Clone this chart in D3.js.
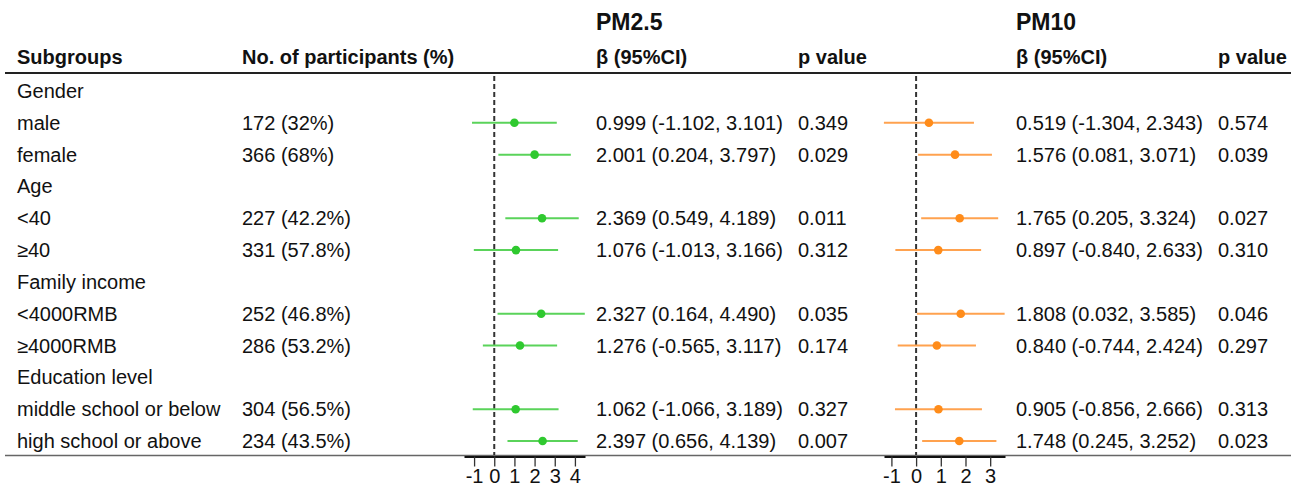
<!DOCTYPE html>
<html>
<head>
<meta charset="utf-8">
<script src="https://cdn.jsdelivr.net/npm/d3@7"></script>
<style>
  body { margin: 0; background: #fff; }
  svg text { font-family: "Liberation Sans", Arial, sans-serif; fill: #111; }
</style>
</head>
<body>
<svg id="chart" width="1291" height="488"></svg>
<script>
// rows of the table
const labels = ["Gender", "male", "female", "Age", "<40", "≥40", "Family income",
    "<4000RMB", "≥4000RMB", "Education level", "middle school or below", "high school or above"];
const participants = ["", "172 (32%)", "366 (68%)", "", "227 (42.2%)", "331 (57.8%)", "",
    "252 (46.8%)", "286 (53.2%)", "", "304 (56.5%)", "234 (43.5%)"];

// PM2.5
const pm25Est = [null, 0.999, 2.001, null, 2.369, 1.076, null, 2.327, 1.276, null, 1.062, 2.397];
const pm25Lo  = [null, -1.102, 0.204, null, 0.549, -1.013, null, 0.164, -0.565, null, -1.066, 0.656];
const pm25Hi  = [null, 3.101, 3.797, null, 4.189, 3.166, null, 4.490, 3.117, null, 3.189, 4.139];
const pm25P   = ["", "0.349", "0.029", "", "0.011", "0.312", "", "0.035", "0.174", "", "0.327", "0.007"];

// PM10
const pm10Est = [null, 0.519, 1.576, null, 1.765, 0.897, null, 1.808, 0.840, null, 0.905, 1.748];
const pm10Lo  = [null, -1.304, 0.081, null, 0.205, -0.840, null, 0.032, -0.744, null, -0.856, 0.245];
const pm10Hi  = [null, 2.343, 3.071, null, 3.324, 2.633, null, 3.585, 2.424, null, 2.666, 3.252];
const pm10P   = ["", "0.574", "0.039", "", "0.027", "0.310", "", "0.046", "0.297", "", "0.313", "0.023"];

const pm25Ticks = [-1, 0, 1, 2, 3, 4];
const pm10Ticks = [-1, 0, 1, 2, 3];

const svg = d3.select("#chart");
const fontSize = 20;

let y = d3.scalePoint()
    .domain(d3.range(labels.length))
    .range([91, 441]);

function fmt(v) { return v.toFixed(3); }

// header
svg.append("text").attr("x", 596).attr("y", 30)
    .attr("font-size", 23).attr("font-weight", "bold").text("PM2.5");
svg.append("text").attr("x", 1016).attr("y", 30)
    .attr("font-size", 23).attr("font-weight", "bold").text("PM10");

const headers = [
    {x: 17, t: "Subgroups"},
    {x: 242, t: "No. of participants (%)"},
    {x: 596, t: "β (95%CI)"},
    {x: 798, t: "p value"},
    {x: 1016, t: "β (95%CI)"},
    {x: 1218, t: "p value"}
];
svg.selectAll("text.hdr")
    .data(headers)
    .enter().append("text")
    .attr("class", "hdr")
    .attr("x", d => d.x)
    .attr("y", 57)
    .attr("dy", "0.35em")
    .attr("font-size", fontSize)
    .attr("font-weight", "bold")
    .text(d => d.t);

svg.append("line").attr("x1", 5).attr("x2", 1291).attr("y1", 73).attr("y2", 73)
    .attr("stroke", "#222").attr("stroke-width", 2);
svg.append("line").attr("x1", 5).attr("x2", 1291).attr("y1", 455.5).attr("y2", 455.5)
    .attr("stroke", "#666").attr("stroke-width", 1.5);

// text columns
function textCol(xPos, values) {
    svg.append("g").selectAll("text")
        .data(values)
        .enter().append("text")
        .attr("x", xPos)
        .attr("y", (d, i) => y(i))
        .attr("dy", "0.35em")
        .attr("font-size", fontSize)
        .text(d => d);
}
textCol(17, labels);
textCol(242, participants);
textCol(596, pm25Est.map((e, i) => e == null ? "" : fmt(e) + " (" + fmt(pm25Lo[i]) + ", " + fmt(pm25Hi[i]) + ")"));
textCol(798, pm25P);
textCol(1016, pm10Est.map((e, i) => e == null ? "" : fmt(e) + " (" + fmt(pm10Lo[i]) + ", " + fmt(pm10Hi[i]) + ")"));
textCol(1218, pm10P);

// forest panels
function forest(range, domain, ticks, est, lo, hi, lineColor, pointColor) {
    let x = d3.scaleLinear().domain(domain).range(range);
    let g = svg.append("g");

    g.append("line")
        .attr("x1", x(0)).attr("x2", x(0))
        .attr("y1", 76).attr("y2", 455)
        .attr("stroke", "#333").attr("stroke-width", 2)
        .attr("stroke-dasharray", "5,3");

    let rows = d3.range(est.length).filter(i => est[i] != null);
    g.selectAll("line.ci")
        .data(rows)
        .enter().append("line")
        .attr("class", "ci")
        .attr("x1", i => x(lo[i]))
        .attr("x2", i => x(hi[i]))
        .attr("y1", i => y(i)).attr("y2", i => y(i))
        .attr("stroke", lineColor).attr("stroke-width", 2);
    g.selectAll("circle")
        .data(rows)
        .enter().append("circle")
        .attr("cx", i => x(est[i]))
        .attr("cy", i => y(i))
        .attr("r", 4.3)
        .attr("fill", pointColor);

    let axis = g.append("g")
        .attr("transform", "translate(0,456.5)")
        .call(d3.axisBottom(x).tickValues(ticks).tickSize(10).tickSizeOuter(0).tickPadding(2));
    axis.select(".domain").attr("stroke", "#111").attr("stroke-width", 2);
    axis.selectAll(".tick line").attr("stroke", "#333").attr("stroke-width", 1.3);
    axis.selectAll(".tick text")
        .attr("font-size", 20)
        .attr("font-family", "Liberation Sans, Arial, sans-serif")
        .attr("fill", "#111")
        .text(d => d);
}

forest([464, 585], [-1.5, 4.5], pm25Ticks, pm25Est, pm25Lo, pm25Hi, "#5ad35a", "#2fc92f");
forest([884, 1005], [-1.3, 3.6], pm10Ticks, pm10Est, pm10Lo, pm10Hi, "#ffa24f", "#ff8c1a");
</script>
</body>
</html>
